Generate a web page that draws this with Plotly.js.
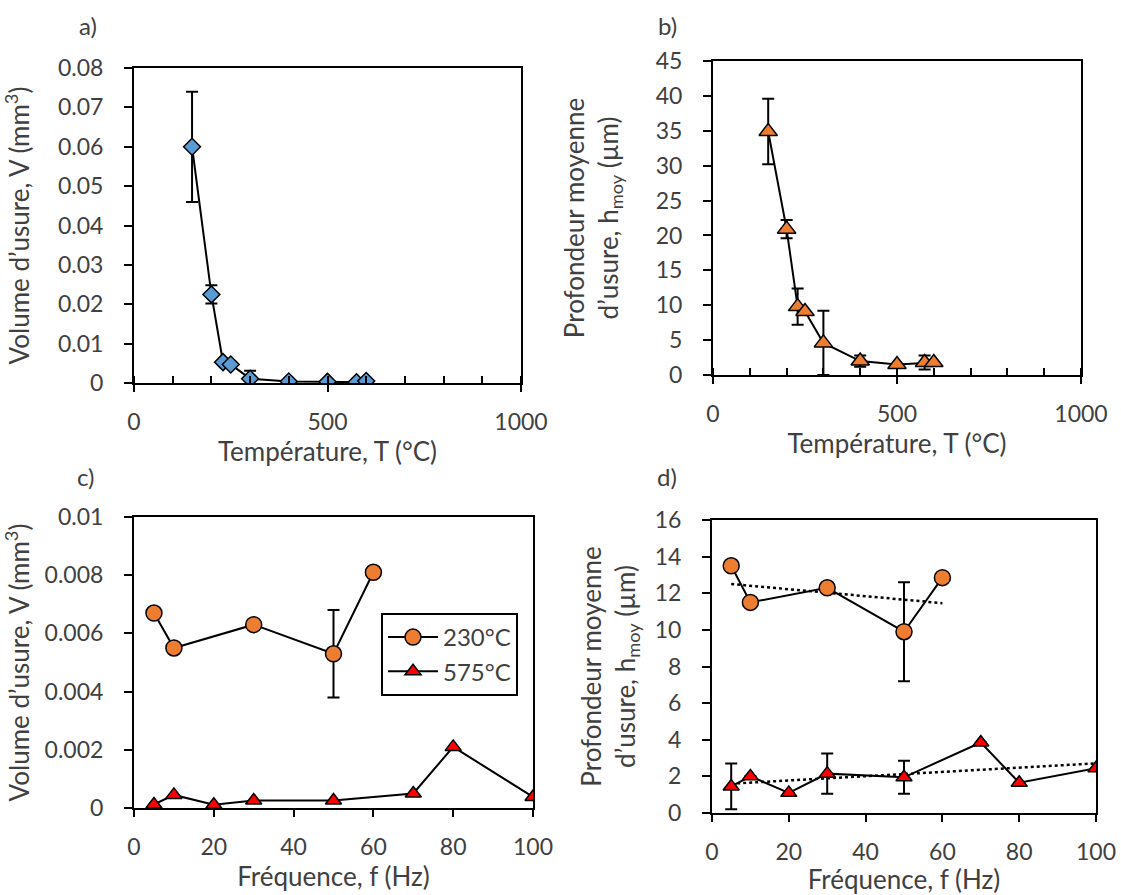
<!DOCTYPE html>
<html><head><meta charset="utf-8">
<script src="https://cdn.plot.ly/plotly-3.0.1.min.js"></script>
<style>html,body{margin:0;padding:0;background:#fff}#g{width:1121px;height:895px}</style>
</head><body><div id="g"></div>
<script>
// ---- data ----
const tempA = [150, 200, 230, 250, 300, 400, 500, 575, 600];
const volA = [0.060, 0.0225, 0.0053, 0.0047, 0.0011, 0.0004, 0.0003, 0.0002, 0.0005];
const volAErr = [0.014, 0.0023, 0, 0, 0.002, 0, 0, 0, 0];

const tempB = [150, 200, 230, 250, 300, 400, 500, 575, 600];
const depthB = [34.9, 20.9, 9.8, 9.1, 4.6, 2.0, 1.5, 1.8, 1.8];
const depthBErr = [4.7, 1.3, 2.6, 0, 4.6, 0.8, 0, 1.0, 0];

const freq230 = [5, 10, 30, 50, 60];
const vol230 = [0.0067, 0.0055, 0.0063, 0.0053, 0.0081];
const vol230Err = [0, 0, 0, 0.0015, 0];
const freq575 = [5, 10, 20, 30, 50, 70, 80, 100];
const vol575 = [0.00012, 0.00045, 0.00011, 0.00026, 0.00026, 0.0005, 0.0021, 0.00038];

const depth230 = [13.5, 11.5, 12.3, 9.9, 12.85];
const depth230Err = [0, 0, 0, 2.7, 0];
const depth575 = [1.45, 2.0, 1.1, 2.15, 1.95, 3.85, 1.65, 2.45];
const depth575Err = [1.25, 0, 0, 1.1, 0.9, 0, 0, 0];

const seriesNames = ['230°C', '575°C'];
const panelLabels = ['a)', 'b)', 'c)', 'd)'];
const titleTemp = 'Température, T (°C)';
const titleFreq = 'Fréquence, f (Hz)';
const titleVol = 'Volume d’usure, V (mm<sup>3</sup>)';
const titleDepth = 'Profondeur moyenne<br>d’usure, h<sub>moy</sub> (µm)';

// ---- helpers ----
function linfit(x, y) {
  const n = x.length;
  const mx = x.reduce((a, b) => a + b, 0) / n, my = y.reduce((a, b) => a + b, 0) / n;
  let sxy = 0, sxx = 0;
  for (let i = 0; i < n; i++) { sxy += (x[i] - mx) * (y[i] - my); sxx += (x[i] - mx) ** 2; }
  const b = sxy / sxx, a = my - b * mx;
  const xs = [Math.min(...x), Math.max(...x)];
  return {x: xs, y: xs.map(v => a + b * v)};
}
const W = 1121, H = 895;
const dx = (a, b) => [a / W, b / W];
const dy = (top, bot) => [1 - bot / H, 1 - top / H];
const err = (arr) => ({type: 'data', array: arr, visible: true, color: '#000', thickness: 2, width: 6});
const line = {color: '#000', width: 2};
const FONT = 'Lato, "Open Sans", sans-serif';
const TXT = '#404040';

const blue = '#5B9BD5', orange = '#ED7D31', red = '#FF0000';

const fit230 = linfit(freq230, depth230);
const fit575 = linfit(freq575, depth575);
const mline = {color: '#000', width: 1.5};

const traces = [
  {x: tempA, y: volA, xaxis: 'x', yaxis: 'y', mode: 'lines+markers', showlegend: false, line,
   error_y: err(volAErr), marker: {symbol: 'diamond', size: 13, color: blue, line: mline}},
  {x: tempB, y: depthB, xaxis: 'x2', yaxis: 'y2', mode: 'lines+markers', showlegend: false, line,
   error_y: err(depthBErr), marker: {symbol: 'triangle-up', size: 16, color: orange, line: mline}},
  {x: freq230, y: vol230, xaxis: 'x3', yaxis: 'y3', mode: 'lines+markers', name: seriesNames[0], line,
   error_y: err(vol230Err), marker: {symbol: 'circle', size: 16, color: orange, line: mline}},
  {x: freq575, y: vol575, xaxis: 'x3', yaxis: 'y3', mode: 'lines+markers', name: seriesNames[1], line,
   marker: {symbol: 'triangle-up', size: 14, color: red, line: mline}},
  {x: fit230.x, y: fit230.y, xaxis: 'x4', yaxis: 'y4', mode: 'lines', showlegend: false,
   line: {color: '#000', width: 2.5, dash: 'dot'}},
  {x: fit575.x, y: fit575.y, xaxis: 'x4', yaxis: 'y4', mode: 'lines', showlegend: false,
   line: {color: '#000', width: 2.5, dash: 'dot'}},
  {x: freq230, y: depth230, xaxis: 'x4', yaxis: 'y4', mode: 'lines+markers', showlegend: false, line,
   error_y: err(depth230Err), marker: {symbol: 'circle', size: 16, color: orange, line: mline}},
  {x: freq575, y: depth575, xaxis: 'x4', yaxis: 'y4', mode: 'lines+markers', showlegend: false, line,
   error_y: err(depth575Err), marker: {symbol: 'triangle-up', size: 14, color: red, line: mline}}
];

const tickFont = {family: FONT, size: 23, color: TXT};
const titleFont = {family: FONT, size: 26, color: TXT};
function ax(extra) {
  return Object.assign({
    showline: true, mirror: true, linecolor: '#000', linewidth: 2,
    ticks: 'outside', ticklen: 7, tickwidth: 2, tickcolor: '#000',
    showgrid: false, zeroline: false, tickfont: tickFont, fixedrange: true
  }, extra);
}
// inside-tick overlay so that major ticks cross the axis line
function inner(base, anchor, extra) {
  return Object.assign({
    overlaying: base, matches: base, anchor: anchor, showline: false, showgrid: false, zeroline: false,
    ticks: 'inside', ticklen: 7, tickwidth: 2, tickcolor: '#000', showticklabels: false, fixedrange: true
  }, extra);
}
const minorA = {ticks: 'inside', dtick: 100, ticklen: 7, tickwidth: 2, tickcolor: '#000'};

const layout = {
  width: W, height: H, paper_bgcolor: '#fff', plot_bgcolor: 'rgba(0,0,0,0)',
  margin: {l: 0, r: 0, t: 0, b: 0},
  font: {family: FONT, color: TXT},
  xaxis: ax({domain: dx(134, 521), range: [0, 1000], dtick: 500, anchor: 'y', minor: minorA,
    ticklabelstandoff: 10, title: {text: titleTemp, font: titleFont, standoff: 2}}),
  yaxis: ax({domain: dy(68, 383), range: [0, 0.08], dtick: 0.01, anchor: 'x', ticklen: 8,
    ticklabelstandoff: 16, title: {text: titleVol, font: titleFont, standoff: 22}}),
  xaxis2: ax({domain: dx(713, 1081), range: [0, 1000], dtick: 500, anchor: 'y2', minor: minorA,
    ticklabelstandoff: 10, title: {text: titleTemp, font: titleFont, standoff: 2}}),
  yaxis2: ax({domain: dy(61, 375), range: [0, 45], dtick: 5, anchor: 'x2', ticklen: 8,
    ticklabelstandoff: 16, title: {text: titleDepth, font: titleFont, standoff: 30}}),
  xaxis3: ax({domain: dx(134, 533), range: [0, 100], dtick: 20, anchor: 'y3',
    ticklabelstandoff: 10, title: {text: titleFreq, font: titleFont, standoff: 6}}),
  yaxis3: ax({domain: dy(517, 808), range: [0, 0.01], dtick: 0.002, anchor: 'x3', ticklen: 8,
    ticklabelstandoff: 16, title: {text: titleVol, font: titleFont, standoff: 10}}),
  xaxis4: ax({domain: dx(712, 1096), range: [0, 100], dtick: 20, anchor: 'y4',
    ticklabelstandoff: 10, title: {text: titleFreq, font: titleFont, standoff: 6}}),
  yaxis4: ax({domain: dy(520, 813), range: [0, 16], dtick: 2, anchor: 'x4', ticklen: 8,
    ticklabelstandoff: 16, title: {text: titleDepth, font: titleFont, standoff: 12}}),
  xaxis5: inner('x', 'y', {range: [0, 1000], dtick: 500}),
  xaxis6: inner('x2', 'y2', {range: [0, 1000], dtick: 500}),
  xaxis7: inner('x3', 'y3', {range: [0, 100], dtick: 20}),
  xaxis8: inner('x4', 'y4', {range: [0, 100], dtick: 20}),
  yaxis5: inner('y', 'x', {range: [0, 0.08], dtick: 0.01}),
  yaxis6: inner('y2', 'x2', {range: [0, 45], dtick: 5}),
  yaxis7: inner('y3', 'x3', {range: [0, 0.01], dtick: 0.002}),
  yaxis8: inner('y4', 'x4', {range: [0, 16], dtick: 2}),
  legend: {x: 381 / W, y: 1 - 613 / H, xanchor: 'left', yanchor: 'top',
    bgcolor: '#fff', bordercolor: '#000', borderwidth: 2,
    font: {family: FONT, size: 24, color: TXT}, itemwidth: 50, tracegroupgap: 4},
  annotations: [
    {text: panelLabels[0], x: 88 / W, y: 1 - 26 / H},
    {text: panelLabels[1], x: 667 / W, y: 1 - 26 / H},
    {text: panelLabels[2], x: 85 / W, y: 1 - 476 / H},
    {text: panelLabels[3], x: 667 / W, y: 1 - 476 / H}
  ].map(a => Object.assign({xref: 'paper', yref: 'paper', showarrow: false, xanchor: 'center', yanchor: 'middle',
    font: {family: FONT, size: 24, color: TXT}}, a))
};

Plotly.newPlot('g', traces, layout, {staticPlot: true, displayModeBar: false});
</script>
</body></html>
